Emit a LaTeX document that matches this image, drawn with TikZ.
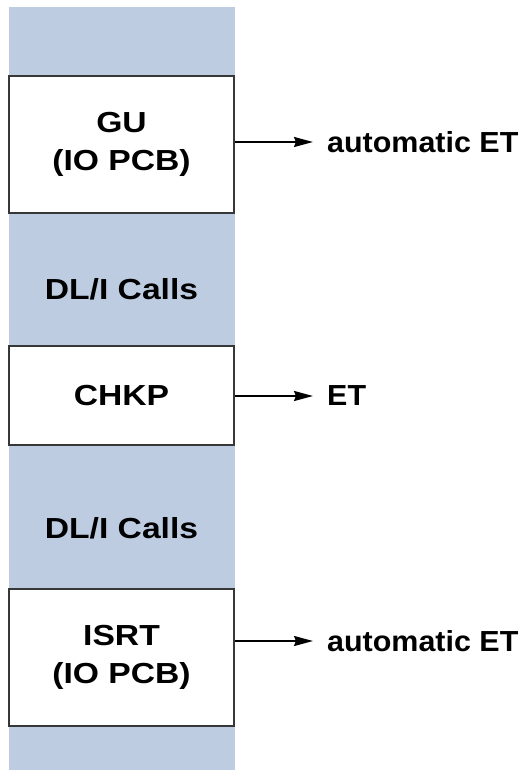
\documentclass[tikz,border=0pt]{standalone}
\usepackage{fontspec}
\setmainfont{Liberation Sans}
\newfontfamily\callfont{Liberation Sans}[FakeStretch=1.16]
\newfontfamily\etfont{Liberation Sans}[FakeStretch=1.05]
\usetikzlibrary{arrows.meta}
\definecolor{stripblue}{RGB}{190,204,226}
\definecolor{boxline}{RGB}{55,55,55}
\begin{document}
\begin{tikzpicture}[x=1pt,y=-1pt,
  callbox/.style={draw=boxline,line width=1.8pt,fill=white,minimum width=225pt,align=center,inner sep=0pt,font=\callfont\bfseries\fontsize{29}{38}\selectfont},
  calltext/.style={font=\callfont\bfseries\fontsize{29}{38}\selectfont,inner sep=0pt},
  ettext/.style={font=\etfont\bfseries\fontsize{29}{38}\selectfont,inner sep=0pt,anchor=west},
  etarrow/.style={-{Stealth[length=19pt,width=10pt,inset=2pt]},line width=2pt,shorten >=14pt}]
\useasboundingbox (0,0) rectangle (526,770);
% Program strip
\fill[stripblue] (9,7) rectangle (235,770);

% Calls in the program
\node[callbox,minimum height=137pt] (gu) at (121.5,144.5) {GU\\(IO PCB)};
\node[calltext] (dli1) at (121.5,289) {DL/I Calls};
\node[callbox,minimum height=99pt] (chkp) at (121.5,395.5) {CHKP};
\node[calltext] (dli2) at (121.5,528) {DL/I Calls};
\node[callbox,minimum height=137pt] (isrt) at (121.5,657.5) {ISRT\\(IO PCB)};

% End of transaction
\node[ettext] (etgu) at (327,142) {automatic ET};
\node[ettext] (etchkp) at (327,396) {ET};
\node[ettext] (etisrt) at (327,641) {automatic ET};

\draw[etarrow] (gu.east |- etgu.west) -- (etgu.west);
\draw[etarrow] (chkp.east |- etchkp.west) -- (etchkp.west);
\draw[etarrow] (isrt.east |- etisrt.west) -- (etisrt.west);
\end{tikzpicture}
\end{document}
